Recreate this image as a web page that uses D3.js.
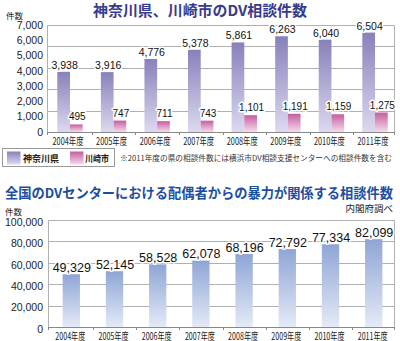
<!DOCTYPE html>
<html><head><meta charset="utf-8">
<script src="https://cdn.jsdelivr.net/npm/d3@7"></script>
<style>
html,body{margin:0;padding:0;background:#fff;}
svg{display:block;}
text{font-family:"Liberation Sans","Noto Sans CJK JP",sans-serif;}
.jp{font-family:"Noto Sans CJK JP","Liberation Sans",sans-serif;}
</style></head>
<body>
<script>
const years = ["2004年度","2005年度","2006年度","2007年度","2008年度","2009年度","2010年度","2011年度"];
const kanagawa = [3938,3916,4776,5378,5861,6263,6040,6504];
const kawasaki = [495,747,711,743,1101,1191,1159,1275];
const national = [49329,52145,58528,62078,68196,72792,77334,82099];
const topTicks = [0,1000,2000,3000,4000,5000,6000,7000];
const topGrid = [1400,2800,4200,5600];
const botTicks = [0,20000,40000,60000,80000,100000];
const seriesNames = ["神奈川県","川崎市"];

const W=400,H=341;
const svg=d3.select("body").append("svg").attr("width",W).attr("height",H);
const defs=svg.append("defs");
function grad(id,top,bot){
  const g=defs.append("linearGradient").attr("id",id).attr("x1",0).attr("y1",0).attr("x2",0).attr("y2",1);
  g.append("stop").attr("offset","0%").attr("stop-color",top);
  g.append("stop").attr("offset","100%").attr("stop-color",bot);
}
grad("gK","#8781ba","#dcd9ef");
grad("gW","#c45e9f","#f5dbec");
grad("gN","#8ea5d5","#e4eaf7");
const fmt=d3.format(",");

// ---------- TOP CHART ----------
const tL=47,tR=394,tT=25,tB=132;
const x1=d3.scaleBand().domain(years).range([48.2,396.8]);
const y1=d3.scaleLinear().domain([0,7000]).range([tB,tT]);

svg.append("text").attr("class","jp").attr("x",200).attr("y",16).attr("text-anchor","middle")
  .attr("font-size",15).attr("font-weight","bold").attr("fill","#3a3a8c")
  .attr("textLength",214).attr("lengthAdjust","spacingAndGlyphs").text("神奈川県、川崎市のDV相談件数");
svg.append("text").attr("class","jp").attr("x",6).attr("y",19).attr("font-size",8.5).attr("fill","#222").text("件数");

const gT=svg.append("g");
gT.selectAll("line.g").data(topGrid).join("line")
  .attr("x1",tL).attr("x2",tR).attr("y1",d=>Math.round(y1(d))+0.5).attr("y2",d=>Math.round(y1(d))+0.5)
  .attr("stroke","#b0b0b0").attr("stroke-width",1);
gT.append("path").attr("d",`M${tL+0.5},${tB}V${tT+0.5}H${tR+0.5}V${tB}`).attr("fill","none").attr("stroke","#b0b0b0");

svg.append("g").selectAll("text").data(topTicks).join("text")
  .attr("x",43).attr("y",d=>y1(d)).attr("dy","0.36em").attr("text-anchor","end")
  .attr("font-size",10.5).attr("fill","#222").text(fmt);

const bw=12.7;
const bars1=svg.append("g");
bars1.selectAll("rect.k").data(kanagawa).join("rect")
  .attr("x",(d,i)=>x1(years[i])+x1.bandwidth()/2-bw).attr("width",bw)
  .attr("y",d=>y1(d)).attr("height",d=>tB-y1(d)).attr("fill","url(#gK)");
bars1.selectAll("rect.w").data(kawasaki).join("rect")
  .attr("x",(d,i)=>x1(years[i])+x1.bandwidth()/2).attr("width",bw)
  .attr("y",d=>y1(d)).attr("height",d=>tB-y1(d)).attr("fill","url(#gW)");

function halo(sel){return sel.attr("stroke","#fff").attr("stroke-width",3).attr("paint-order","stroke").attr("stroke-linejoin","round");}
halo(svg.append("g").selectAll("text").data(kanagawa).join("text")
  .attr("x",(d,i)=>x1(years[i])+x1.bandwidth()/2-bw/2+1).attr("y",d=>y1(d)-3)
  .attr("text-anchor","middle").attr("font-size",10.5).attr("fill","#111").text(fmt));
halo(svg.append("g").selectAll("text").data(kawasaki).join("text")
  .attr("x",(d,i)=>x1(years[i])+x1.bandwidth()/2+bw/2+1).attr("y",d=>y1(d)-4)
  .attr("text-anchor","middle").attr("font-size",10).attr("fill","#111").text(fmt));

svg.append("line").attr("x1",tL).attr("x2",tR+0.5).attr("y1",tB+0.5).attr("y2",tB+0.5).attr("stroke","#888");
svg.append("g").selectAll("line").data(d3.range(years.length+1)).join("line")
  .attr("x1",i=>i===0?tL+0.5:(i===years.length?tR+0.5:Math.round(x1(years[i]))+0.5))
  .attr("x2",i=>i===0?tL+0.5:(i===years.length?tR+0.5:Math.round(x1(years[i]))+0.5))
  .attr("y1",tB).attr("y2",tB+3).attr("stroke","#888");
svg.append("g").selectAll("text").data(years).join("text").attr("class","jp")
  .attr("x",d=>x1(d)+x1.bandwidth()/2-2).attr("y",145).attr("text-anchor","middle")
  .attr("font-size",10).attr("fill","#222").attr("textLength",31).attr("lengthAdjust","spacingAndGlyphs").text(d=>d);

svg.append("rect").attr("x",2.5).attr("y",148.5).attr("width",112).attr("height",18).attr("fill","#fff").attr("stroke","#999");
const lg=[{n:seriesNames[0],f:"url(#gK)",sx:7,tx:23,tl:36},{n:seriesNames[1],f:"url(#gW)",sx:70,tx:85,tl:24}];
lg.forEach(l=>{
  svg.append("rect").attr("x",l.sx).attr("y",151.5).attr("width",13.5).attr("height",13).attr("fill",l.f);
  svg.append("text").attr("class","jp").attr("x",l.tx).attr("y",161.5).attr("font-size",9.5).attr("font-weight","bold")
    .attr("fill","#222").attr("textLength",l.tl).attr("lengthAdjust","spacingAndGlyphs").text(l.n);
});
svg.append("text").attr("class","jp").attr("x",120).attr("y",161).attr("font-size",7.6).attr("fill","#333")
  .attr("textLength",272).attr("lengthAdjust","spacingAndGlyphs")
  .text("※2011年度の県の相談件数には横浜市DV相談支援センターへの相談件数を含む");

// ---------- BOTTOM CHART ----------
const bL=48,bR=394,bT=220,bB=327;
const x2=d3.scaleBand().domain(years).range([49.7,395.3]);
const y2=d3.scaleLinear().domain([0,100000]).range([bB,bT]);

svg.append("text").attr("class","jp").attr("x",5).attr("y",198).attr("font-size",13.5).attr("font-weight","bold")
  .attr("fill","#1d4e9e").attr("textLength",388).attr("lengthAdjust","spacingAndGlyphs")
  .text("全国のDVセンターにおける配偶者からの暴力が関係する相談件数");
svg.append("text").attr("class","jp").attr("x",393).attr("y",212).attr("text-anchor","end").attr("font-size",9.5)
  .attr("fill","#222").text("内閣府調べ");
svg.append("text").attr("class","jp").attr("x",5).attr("y",215).attr("font-size",8.5).attr("fill","#222").text("件数");

const gB=svg.append("g");
gB.selectAll("line").data(botTicks.slice(1,-1)).join("line")
  .attr("x1",bL).attr("x2",bR).attr("y1",d=>Math.round(y2(d))+0.5).attr("y2",d=>Math.round(y2(d))+0.5)
  .attr("stroke","#b0b0b0");
gB.append("path").attr("d",`M${bL+0.5},${bB}V${bT+0.5}H${bR+0.5}V${bB}`).attr("fill","none").attr("stroke","#b0b0b0");

svg.append("g").selectAll("text").data(botTicks).join("text")
  .attr("x",43).attr("y",d=>y2(d)+2).attr("dy","0.36em").attr("text-anchor","end")
  .attr("font-size",10.5).attr("fill","#222").text(fmt);

const nbw=17.3;
svg.append("g").selectAll("rect").data(national).join("rect")
  .attr("x",(d,i)=>x2(years[i])+x2.bandwidth()/2-nbw/2).attr("width",nbw)
  .attr("y",d=>y2(d)).attr("height",d=>bB-y2(d)).attr("fill","url(#gN)");
halo(svg.append("g").selectAll("text").data(national).join("text")
  .attr("x",(d,i)=>x2(years[i])+x2.bandwidth()/2+0.5).attr("y",d=>y2(d)-2.5)
  .attr("text-anchor","middle").attr("font-size",12.5).attr("fill","#111").text(fmt));

svg.append("line").attr("x1",bL).attr("x2",bR+0.5).attr("y1",bB+0.5).attr("y2",bB+0.5).attr("stroke","#888");
svg.append("g").selectAll("line").data(d3.range(years.length+1)).join("line")
  .attr("x1",i=>i===0?bL+0.5:(i===years.length?bR+0.5:Math.round(x2(years[i]))+0.5))
  .attr("x2",i=>i===0?bL+0.5:(i===years.length?bR+0.5:Math.round(x2(years[i]))+0.5))
  .attr("y1",bB).attr("y2",bB+3).attr("stroke","#888");
svg.append("g").selectAll("text").data(years).join("text").attr("class","jp")
  .attr("x",d=>x2(d)+x2.bandwidth()/2-1).attr("y",339.5).attr("text-anchor","middle")
  .attr("font-size",10).attr("fill","#222").attr("textLength",30).attr("lengthAdjust","spacingAndGlyphs").text(d=>d);
</script>
</body></html>
